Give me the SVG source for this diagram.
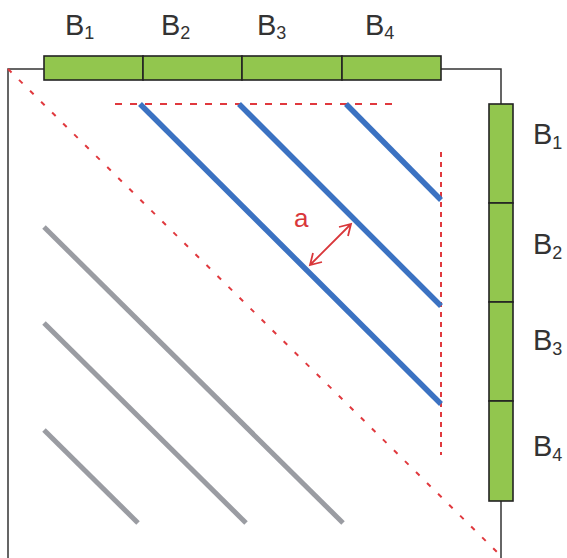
<svg xmlns="http://www.w3.org/2000/svg" width="567" height="558" viewBox="0 0 567 558">
<defs>
<style>
.blk{fill:#92c64e;stroke:#222;stroke-width:1.6}
.frame{fill:none;stroke:#333;stroke-width:1.5}
.dash{fill:none;stroke:#e0393e;stroke-width:2}
.dh{stroke-dasharray:7 8}
.dd{stroke-dasharray:5 10.5}
.dv{stroke-dasharray:5 5}
.blue{stroke:#3b72c2;stroke-width:5.5;stroke-linecap:butt}
.gray{stroke:#9a9ca2;stroke-width:5;stroke-linecap:butt}
.lbl{font-family:"Liberation Sans",Arial,sans-serif;font-size:29px;fill:#333}
.sub{font-size:18px}
.ar{fill:none;stroke:#d9373a;stroke-width:1.8}
</style>
</defs>
<rect width="567" height="558" fill="#fff"/>
<g id="connectors">
<path class="frame" d="M8,558 V69 H44"/>
<path class="frame" d="M441,69 H501 V104"/>
<path class="frame" d="M501,501 V558"/>
<line class="dash dd" x1="8" y1="69" x2="501" y2="556"/>
<line class="dash dh" x1="115" y1="104" x2="392" y2="104"/>
<line class="dash dv" x1="441" y1="152" x2="441" y2="455"/>
<line class="blue" x1="140" y1="104" x2="441" y2="404"/>
<line class="blue" x1="239" y1="104" x2="441" y2="306"/>
<line class="blue" x1="346" y1="104" x2="441" y2="200"/>
<line class="gray" x1="44" y1="227" x2="343" y2="523"/>
<line class="gray" x1="44" y1="323" x2="246" y2="523"/>
<line class="gray" x1="44" y1="430" x2="138" y2="523"/>
<path class="ar" d="M310,265 L351,224 M339,227 L351,224 L348,236 M322,262 L310,265 L313,253"/>
</g>
<g id="top-bar">
<rect class="blk" x="44" y="56" width="99" height="24"/>
<rect class="blk" x="143" y="56" width="99" height="24"/>
<rect class="blk" x="242" y="56" width="100" height="24"/>
<rect class="blk" x="342" y="56" width="99" height="24"/>
</g>
<g id="right-bar">
<rect class="blk" x="489" y="104" width="24" height="99"/>
<rect class="blk" x="489" y="203" width="24" height="99"/>
<rect class="blk" x="489" y="302" width="24" height="99"/>
<rect class="blk" x="489" y="401" width="24" height="100"/>
</g>
<g id="top-labels">
<text class="lbl" x="65" y="35">B<tspan class="sub" dy="4">1</tspan></text>
<text class="lbl" x="161" y="35">B<tspan class="sub" dy="4">2</tspan></text>
<text class="lbl" x="257" y="35">B<tspan class="sub" dy="4">3</tspan></text>
<text class="lbl" x="365" y="35">B<tspan class="sub" dy="4">4</tspan></text>
</g>
<g id="right-labels">
<text class="lbl" x="533" y="144">B<tspan class="sub" dy="5">1</tspan></text>
<text class="lbl" x="533" y="254">B<tspan class="sub" dy="5">2</tspan></text>
<text class="lbl" x="533" y="350">B<tspan class="sub" dy="5">3</tspan></text>
<text class="lbl" x="533" y="456">B<tspan class="sub" dy="5">4</tspan></text>
</g>
<g id="label-a">
<text x="294" y="227" style="font-family:'Liberation Sans',Arial,sans-serif;font-size:26px;fill:#d9373a">a</text>
</g>
</svg>
